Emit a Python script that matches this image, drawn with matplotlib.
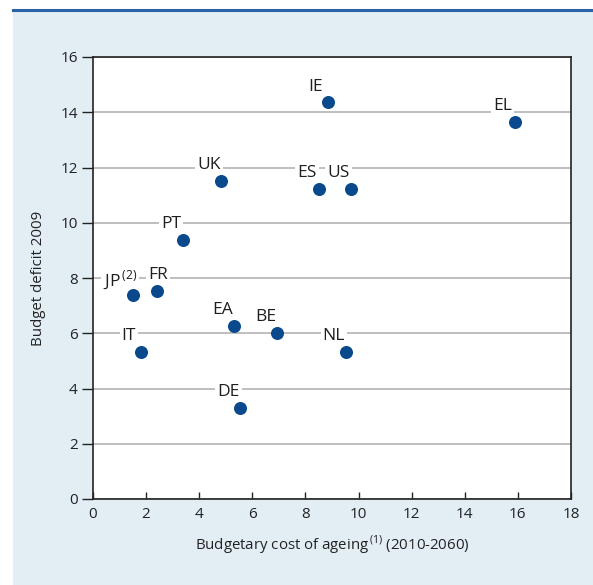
import matplotlib
matplotlib.use('Agg')
from matplotlib import pyplot as plt
from matplotlib.patches import Rectangle
from matplotlib.lines import Line2D

plt.rcParams['font.family'] = ['Open Sans', 'DejaVu Sans']
plt.rcParams['mathtext.fontset'] = 'custom'
plt.rcParams['mathtext.rm'] = 'Open Sans'

# data
countries = ['IE', 'EL', 'UK', 'ES', 'US', 'PT', 'JP$^{\\,\\mathrm{(2)}}$', 'FR',
             'EA', 'BE', 'NL', 'IT', 'DE']
ageing_cost = [8.85, 15.89, 4.82, 8.51, 9.71, 3.39, 1.51, 2.41, 5.31, 6.93, 9.53, 1.81, 5.53]
deficit = [14.36, 13.65, 11.51, 11.22, 11.22, 9.37, 7.38, 7.53, 6.27, 6.01, 5.32, 5.32, 3.29]
xticks = list(range(0, 19, 2))
yticks = list(range(0, 17, 2))

# label offsets (points) - FR sits right above its dot, the rest up-left
lab_dx = [-8.8, -8.8, -8.8, -8.8, -8.8, -8.8, -9.4, 0.7, -8.0, -8.0, -8.8, -8.8, -8.0]
lab_dy = 11.3

dot_col = '#0a4a8c'
bg_col = '#e2edf4'

fig = plt.figure(figsize=(5.93, 5.85), dpi=100, facecolor='white')
# light blue panel + blue rule on top
fig.patches.append(Rectangle((13/593, 0), 1 - 13/593, 1 - 10/585, transform=fig.transFigure,
                             facecolor=bg_col, edgecolor='none', zorder=-5))
fig.lines.append(Line2D([13/593, 1], [1 - 10/585, 1 - 10/585], transform=fig.transFigure,
                        color='#2a62a6', linewidth=2.2, zorder=-4))

ax = fig.add_axes([93/593, 1 - 499/585, (571-93)/593, (499-57)/585])
ax.set_zorder(2)
ax.set_facecolor('white')
ax.set_xlim(0, 18)
ax.set_ylim(0, 16)
ax.set_xticks(xticks)
ax.set_yticks(yticks)
ax.yaxis.grid(True, color='#b4b4b4', linewidth=1.2)
ax.set_axisbelow(True)
for s in ax.spines.values():
    s.set_linewidth(1.2)
    s.set_color('#222222')
ax.tick_params(axis='y', direction='out', length=8, width=1, labelsize=11, colors='#222222', pad=3)
ax.tick_params(axis='x', direction='in', length=5, width=1, labelsize=11, colors='#222222', pad=6)

ax.scatter(ageing_cost, deficit, s=88, color=dot_col, zorder=6, linewidths=0)
for name, x, y, dx in zip(countries, ageing_cost, deficit, lab_dx):
    ax.annotate(name, (x, y), xytext=(dx, lab_dy), textcoords='offset points',
                ha='center', va='center', fontsize=12.5, color='#1e1e1e', zorder=4,
                bbox=dict(boxstyle='square,pad=0.12', facecolor='white', edgecolor='none'))

ax.set_xlabel('Budgetary cost of ageing$^{\\,\\mathrm{(1)}}$ (2010-2060)', fontsize=10.8,
              color='#222222', labelpad=8)
ax.set_ylabel('Budget deficit 2009', fontsize=10.8, color='#222222', labelpad=10)

fig.savefig('out.png', dpi=100, facecolor=fig.get_facecolor())
